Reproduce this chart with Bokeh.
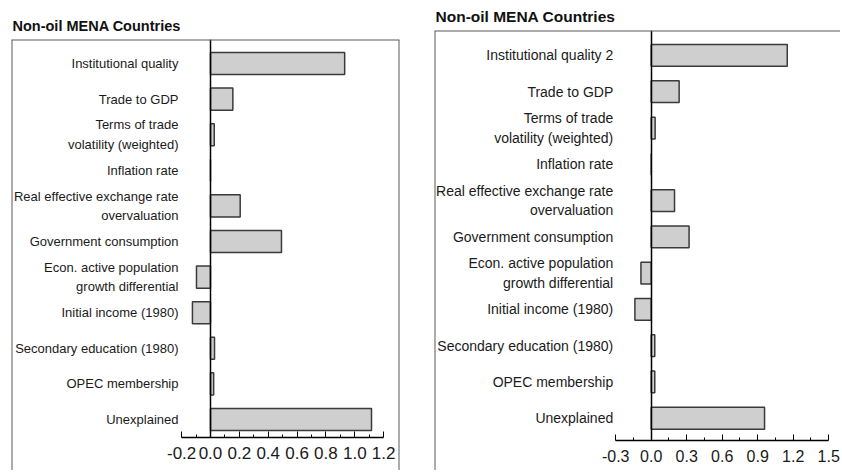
from bokeh.plotting import figure
from bokeh.models import Range1d, LinearAxis, FixedTicker, PrintfTickFormatter, Span
from bokeh.layouts import row
from bokeh.embed import file_html
from bokeh.resources import INLINE
from bokeh.core.properties import value

# ---------------- data ----------------
title_text = "Non-oil  MENA Countries"

categories_left = [
    "Institutional quality",
    "Trade to GDP",
    "Terms of trade\nvolatility (weighted)",
    "Inflation rate",
    "Real effective exchange rate\novervaluation",
    "Government consumption",
    "Econ. active population\ngrowth differential",
    "Initial income (1980)",
    "Secondary education (1980)",
    "OPEC membership",
    "Unexplained",
]
values_left = [0.93, 0.155, 0.026, 0.0, 0.206, 0.492, -0.097, -0.125, 0.028, 0.022, 1.116]
ticks_left = [-0.2, 0.0, 0.2, 0.4, 0.6, 0.8, 1.0, 1.2]
minor_ticks_left = [-0.1, 0.1, 0.3, 0.5, 0.7, 0.9, 1.1]

categories_right = [
    "Institutional quality 2",
    "Trade to GDP",
    "Terms of trade\nvolatility (weighted)",
    "Inflation rate",
    "Real effective exchange rate\novervaluation",
    "Government consumption",
    "Econ. active population\ngrowth differential",
    "Initial income (1980)",
    "Secondary education (1980)",
    "OPEC membership",
    "Unexplained",
]
values_right = [1.15, 0.236, 0.033, 0.0, 0.197, 0.32, -0.087, -0.138, 0.03, 0.03, 0.958]
ticks_right = [-0.3, 0.0, 0.3, 0.6, 0.9, 1.2, 1.5]
minor_ticks_right = [-0.15, 0.15, 0.45, 0.75, 1.05, 1.35]

FONT = "Liberation Sans"
BAR_FILL = "#cfcfcf"
BAR_LINE = "#3a3a3a"
BOX = "#5a5a5a"


def panel(cats, vals, ticks, minor, width, height, x_rng, y_rng, axis_y,
          min_left, min_right, min_top, label_off, label_size, line_h,
          tick_size, tick_standoff, title_size, title_standoff, bar_h,
          right_side=True):
    p = figure(width=width, height=height, output_backend="svg",
               toolbar_location=None, x_axis_location=None, y_axis_location=None,
               x_range=Range1d(*x_rng), y_range=Range1d(*y_rng),
               title=title_text)
    p.frame_align = False
    p.min_border_left = min_left
    p.min_border_right = min_right
    p.min_border_top = min_top
    p.min_border_bottom = 0
    p.outline_line_color = None
    p.background_fill_color = "white"
    p.border_fill_color = "white"
    p.xgrid.visible = False
    p.ygrid.visible = False

    p.title.align = "left"
    p.title.offset = 1
    p.title.standoff = title_standoff
    p.title.text_font = FONT
    p.title.text_font_style = "bold"
    p.title.text_font_size = title_size
    p.title.text_color = "#111111"

    idx = list(range(len(cats)))
    p.hbar(y=idx, left=0, right=vals, height=bar_h, fill_color=BAR_FILL,
           line_color=BAR_LINE, line_width=1.5)

    p.text(x=[0] * len(cats), y=idx, text=cats, x_offset=label_off,
           text_align="right", text_baseline="middle",
           text_font=value(FONT), text_font_size=label_size,
           text_color="#1a1a1a", text_line_height=line_h)

    # x axis placed inside the frame
    xaxis = LinearAxis(fixed_location=axis_y, bounds=(ticks[0], ticks[-1]),
                       ticker=FixedTicker(ticks=ticks, minor_ticks=minor),
                       formatter=PrintfTickFormatter(format="%.1f"))
    xaxis.axis_line_color = "black"
    xaxis.axis_line_width = 1.5
    xaxis.major_tick_in = 6
    xaxis.major_tick_out = 0
    xaxis.minor_tick_in = 3
    xaxis.minor_tick_out = 0
    xaxis.major_tick_line_color = "black"
    xaxis.minor_tick_line_color = "black"
    xaxis.major_label_standoff = tick_standoff
    xaxis.major_label_text_font = FONT
    xaxis.major_label_text_font_size = tick_size
    xaxis.major_label_text_color = "#1a1a1a"
    p.add_layout(xaxis, "below")

    # zero line (vertical) from top of frame down to the x axis
    yaxis = LinearAxis(fixed_location=0, bounds=(y_rng[1], axis_y),
                       ticker=FixedTicker(ticks=[]))
    yaxis.axis_line_color = "black"
    yaxis.axis_line_width = 1.5
    yaxis.major_tick_in = 0
    yaxis.major_tick_out = 0
    yaxis.minor_tick_in = 0
    yaxis.minor_tick_out = 0
    yaxis.major_label_text_font_size = "0px"
    p.add_layout(yaxis, "left")

    # surrounding box (its bottom edge lies outside the picture)
    p.add_layout(Span(location=x_rng[0], dimension="height", line_color=BOX, line_width=2))
    p.add_layout(Span(location=y_rng[1], dimension="width", line_color=BOX, line_width=2))
    if right_side:
        p.add_layout(Span(location=x_rng[1], dimension="height", line_color=BOX, line_width=2))
    return p


left = panel(categories_left, values_left, ticks_left, minor_ticks_left,
             width=420, height=470, x_rng=(-1.379, 1.31), y_rng=(11.433, -0.674),
             axis_y=10.5, min_left=11, min_right=21, min_top=39, label_off=-32,
             label_size="13px", line_h=1.3, tick_size="17px", tick_standoff=10,
             title_size="14.5px", title_standoff=11, bar_h=0.62, right_side=True)

right = panel(categories_right, values_right, ticks_right, minor_ticks_right,
              width=420, height=470, x_rng=(-1.832, 1.60), y_rng=(11.44, -0.688),
              axis_y=10.62, min_left=14, min_right=0, min_top=29, label_off=-38,
              label_size="14px", line_h=1.22, tick_size="16px", tick_standoff=9,
              title_size="15.5px", title_standoff=11, bar_h=0.6, right_side=False)

layout = row(left, right)
open("out.html", "w").write(file_html(layout, INLINE))
